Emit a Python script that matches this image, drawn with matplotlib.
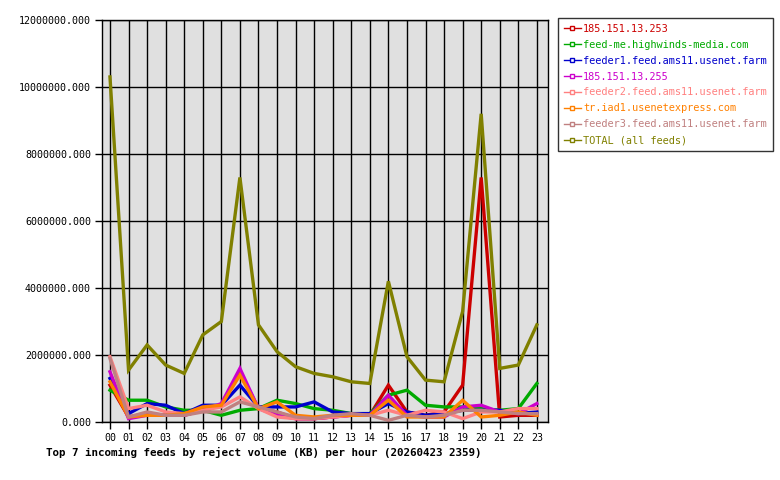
import numpy as np
import matplotlib
matplotlib.use("Agg")
import matplotlib.pyplot as plt
from matplotlib.lines import Line2D
from matplotlib.ticker import FormatStrFormatter

# data (KB rejected per hour)
hours = ["00", "01", "02", "03", "04", "05", "06", "07", "08", "09", "10", "11",
         "12", "13", "14", "15", "16", "17", "18", "19", "20", "21", "22", "23"]

feeds = ["185.151.13.253", "feed-me.highwinds-media.com",
         "feeder1.feed.ams11.usenet.farm", "185.151.13.255",
         "feeder2.feed.ams11.usenet.farm", "tr.iad1.usenetexpress.com",
         "feeder3.feed.ams11.usenet.farm", "TOTAL (all feeds)"]

colors = ["#cc0000", "#00aa00", "#0000cc", "#cc00cc",
          "#ff8080", "#ff8000", "#c08080", "#808000"]

red_253 = [1.1e6, 0.15e6, 0.25e6, 0.2e6, 0.2e6, 0.35e6, 0.5e6, 1.5e6, 0.4e6, 0.3e6, 0.1e6, 0.1e6,
           0.15e6, 0.2e6, 0.2e6, 1.1e6, 0.3e6, 0.2e6, 0.3e6, 1.1e6, 7.3e6, 0.15e6, 0.2e6, 0.2e6]
highwinds = [0.95e6, 0.65e6, 0.65e6, 0.45e6, 0.35e6, 0.35e6, 0.2e6, 0.35e6, 0.4e6, 0.65e6, 0.55e6, 0.4e6,
             0.35e6, 0.25e6, 0.25e6, 0.8e6, 0.95e6, 0.5e6, 0.45e6, 0.45e6, 0.4e6, 0.35e6, 0.4e6, 1.15e6]
feeder1 = [1.3e6, 0.25e6, 0.55e6, 0.5e6, 0.25e6, 0.5e6, 0.5e6, 1.1e6, 0.45e6, 0.45e6, 0.45e6, 0.6e6,
           0.3e6, 0.25e6, 0.25e6, 0.55e6, 0.3e6, 0.2e6, 0.25e6, 0.35e6, 0.35e6, 0.35e6, 0.25e6, 0.3e6]
mag_255 = [1.5e6, 0.1e6, 0.2e6, 0.2e6, 0.2e6, 0.35e6, 0.55e6, 1.6e6, 0.4e6, 0.2e6, 0.1e6, 0.1e6,
           0.15e6, 0.2e6, 0.2e6, 0.8e6, 0.2e6, 0.15e6, 0.15e6, 0.45e6, 0.5e6, 0.3e6, 0.25e6, 0.55e6]
feeder2 = [1.95e6, 0.4e6, 0.5e6, 0.3e6, 0.25e6, 0.35e6, 0.45e6, 0.75e6, 0.4e6, 0.15e6, 0.1e6, 0.1e6,
           0.15e6, 0.2e6, 0.2e6, 0.35e6, 0.2e6, 0.35e6, 0.3e6, 0.1e6, 0.3e6, 0.3e6, 0.4e6, 0.4e6]
usenetexpress = [1.2e6, 0.15e6, 0.2e6, 0.2e6, 0.25e6, 0.45e6, 0.5e6, 1.4e6, 0.4e6, 0.6e6, 0.2e6, 0.15e6,
                 0.2e6, 0.2e6, 0.2e6, 0.65e6, 0.15e6, 0.15e6, 0.15e6, 0.65e6, 0.15e6, 0.2e6, 0.3e6, 0.2e6]
feeder3 = [1.9e6, 0.15e6, 0.3e6, 0.2e6, 0.2e6, 0.3e6, 0.3e6, 0.6e6, 0.45e6, 0.3e6, 0.15e6, 0.1e6,
           0.2e6, 0.25e6, 0.2e6, 0.05e6, 0.2e6, 0.15e6, 0.2e6, 0.35e6, 0.35e6, 0.3e6, 0.25e6, 0.25e6]
total = [10.3e6, 1.55e6, 2.3e6, 1.7e6, 1.45e6, 2.6e6, 3.0e6, 7.3e6, 2.9e6, 2.1e6, 1.65e6, 1.45e6,
         1.35e6, 1.2e6, 1.15e6, 4.2e6, 1.95e6, 1.25e6, 1.2e6, 3.3e6, 9.2e6, 1.6e6, 1.7e6, 2.9e6]

series = [red_253, highwinds, feeder1, mag_255, feeder2, usenetexpress, feeder3, total]

mono = "DejaVu Sans Mono"

fig = plt.figure(figsize=(7.8, 4.8), dpi=100)
ax = fig.add_axes([102 / 780, 58 / 480, 446 / 780, 402 / 480])
ax.set_facecolor("#e0e0e0")

x = np.arange(len(hours))
for vals, c in zip(series, colors):
    ax.plot(x, vals, color=c, lw=2.4, solid_joinstyle="miter")

ax.set_xlim(-0.43, 23.6)
ax.set_ylim(0, 12e6)
ax.set_xticks(x)
ax.set_xticklabels(hours, fontfamily=mono, fontsize=7.2)
ax.set_yticks(np.arange(0, 12e6 + 1, 2e6))
ax.yaxis.set_major_formatter(FormatStrFormatter("%.3f"))
for lab in ax.get_yticklabels():
    lab.set_fontfamily(mono)
    lab.set_fontsize(7.2)
ax.tick_params(axis="both", length=5, width=1, color="black", pad=3)
ax.grid(True, color="black", lw=1)
ax.set_axisbelow(True)
for sp in ax.spines.values():
    sp.set_color("black")
    sp.set_linewidth(1)

# legend with small square markers like the original
handles = [Line2D([0], [0], color=c, lw=1, marker="s", markersize=3,
                  markerfacecolor="white", markeredgecolor=c) for c in colors]
leg = fig.legend(handles, feeds, loc="upper left",
                 bbox_to_anchor=(558 / 780, 1 - 18 / 480),
                 prop={"family": mono, "size": 7.4},
                 frameon=True, fancybox=False, edgecolor="black",
                 handlelength=1.7, handletextpad=0.2, labelspacing=0.58,
                 borderpad=0.55, borderaxespad=0)
leg.get_frame().set_linewidth(1)
for t, c in zip(leg.get_texts(), colors):
    t.set_color(c)

fig.text(264 / 780, 1 - 452 / 480,
         "Top 7 incoming feeds by reject volume (KB) per hour (20260423 2359)",
         ha="center", va="center", fontfamily=mono, fontweight="bold", fontsize=7.8)

fig.savefig("out.png", dpi=100, facecolor="white")
